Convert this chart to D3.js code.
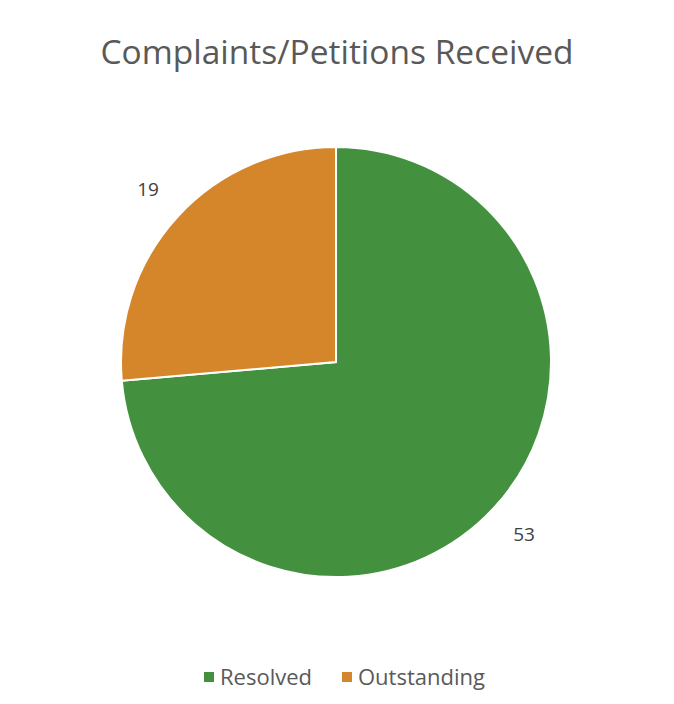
<!DOCTYPE html>
<html lang="en">
<head>
	<meta charset="utf-8" />
	<title>Complaints/Petitions Received</title>
	<script src="https://d3js.org/d3.v7.min.js"></script>
    <style>
        body {
            margin: 0;
            background: #ffffff;
            font-family: "Open Sans", "Noto Sans", sans-serif;
        }
    </style>
</head>
<body>
	<script>
    // chart data
    const categories = ["Resolved", "Outstanding"];
    const counts = [53, 19];
    const colors = ["#43913f", "#d6862a"];

    const width = 674, height = 704;
    const cx = 336, cy = 362, radius = 215;

    let svg = d3.select("body")
        .append("svg")
        .attr("width", width)
        .attr("height", height);

    // title
    svg.append("text")
        .text("Complaints/Petitions Received")
        .attr("x", 337)
        .attr("y", 64)
        .attr("text-anchor", "middle")
        .attr("font-size", 33.5)
        .attr("fill", "#595959");

    let data = categories.map(function(c, i) {
        return { name: c, value: counts[i], color: colors[i] };
    });

    let pie = d3.pie()
        .value(function(d) { return d.value; })
        .sort(null);

    let arc = d3.arc()
        .innerRadius(0)
        .outerRadius(radius);

    let labelArc = d3.arc()
        .innerRadius(255)
        .outerRadius(255);

    let g = svg.append("g")
        .attr("transform", "translate(" + cx + "," + cy + ")");

    let arcs = pie(data);

    g.selectAll("path")
        .data(arcs)
        .enter()
        .append("path")
        .attr("d", arc)
        .attr("fill", function(d) { return d.data.color; })
        .attr("stroke", "#ffffff")
        .attr("stroke-width", 2);

    // value labels outside the slices
    g.selectAll("text.value")
        .data(arcs)
        .enter()
        .append("text")
        .attr("class", "value")
        .text(function(d) { return d.data.value; })
        .attr("transform", function(d) {
            return "translate(" + labelArc.centroid(d) + ")";
        })
        .attr("text-anchor", "middle")
        .attr("dy", "0.35em")
        .attr("font-size", 19)
        .attr("fill", "#404040");

    // legend
    let legendX = [204, 342];
    let legend = svg.selectAll("g.legend")
        .data(data)
        .enter()
        .append("g")
        .attr("class", "legend")
        .attr("transform", function(d, i) {
            return "translate(" + legendX[i] + ",677)";
        });

    legend.append("rect")
        .attr("x", 0)
        .attr("y", -5)
        .attr("width", 10)
        .attr("height", 10)
        .attr("fill", function(d) { return d.color; });

    legend.append("text")
        .text(function(d) { return d.name; })
        .attr("x", 16)
        .attr("y", 0)
        .attr("dy", "0.35em")
        .attr("font-size", 22)
        .attr("fill", "#595959");
	</script>
</body>
</html>
